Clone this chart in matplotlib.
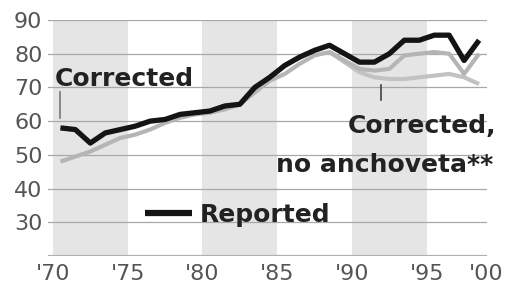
import numpy as np
import matplotlib
matplotlib.use('Agg')
import matplotlib.pyplot as plt

# annual values, 1970-1998
years = list(range(1970, 1999))
reported = [58, 57.5, 53.5, 56.5, 57.5, 58.5, 60, 60.5, 62, 62.5,
            63, 64.5, 65, 70, 73, 76.5, 79, 81, 82.5, 80,
            77.5, 77.5, 80, 84, 84, 85.5, 85.5, 78, 84]
corrected = [48, 49.5, 51, 53, 55, 56, 57.5, 59.5, 61, 62,
             62.5, 63.5, 65, 68.5, 72, 74, 77, 79.5, 80.5, 78,
             75.5, 75, 75.5, 79.5, 80, 80.5, 80, 74, 80]
no_anch_years = list(range(1988, 1999))
no_anchoveta = [80.5, 77.5, 74.5, 73, 72.5, 72.5, 73, 73.5, 74, 73, 71]

shaded = [(1970, 1975), (1980, 1985), (1990, 1995)]
xtick_pos = [1970, 1975, 1980, 1985, 1990, 1995, 1999]
xtick_labels = ["'70", "'75", "'80", "'85", "'90", "'95", "'00"]
yticks = [30, 40, 50, 60, 70, 80, 90]

W, H = 506, 287
fig = plt.figure(figsize=(W / 100, H / 100), dpi=100)
ax = fig.add_axes([48 / W, 31 / H, (487 - 48) / W, 236 / H])
ax.set_xlim(1969.67, 1999.03)
ax.set_ylim(20, 90)

for a, b in shaded:
    ax.axvspan(a, b, color='#e5e5e5', lw=0, zorder=0)
for v in yticks:
    ax.axhline(v, color='#a8a8a8', lw=0.9, zorder=1)
ax.axhline(20, color='#b0b0b0', lw=1.6, zorder=1)

# plot each year at mid-year
x = np.array(years) + 0.5
x2 = np.array(no_anch_years) + 0.5
ax.plot(x2, no_anchoveta, color='#c2c2c2', lw=3.0, solid_capstyle='butt', zorder=2)
ax.plot(x, corrected, color='#b5b5b5', lw=3.0, solid_capstyle='butt', zorder=3)
ax.plot(x, reported, color='#141414', lw=3.8, solid_capstyle='butt', zorder=4)

for s in ax.spines.values():
    s.set_visible(False)
ax.set_yticks(yticks)
ax.set_yticklabels([str(v) for v in yticks])
ax.set_xticks(xtick_pos)
ax.set_xticklabels(xtick_labels)
ax.tick_params(axis='y', length=0, pad=4, labelsize=16, labelcolor='#555555')
ax.tick_params(axis='x', length=0, pad=6, labelsize=16, labelcolor='#555555')

# labels
ax.text(1970.13, 70.4, 'Corrected', fontsize=18, fontweight='bold',
        color='#222222', ha='left', va='baseline')
ax.plot([1970.47, 1970.47], [61.0, 68.7], color='#777777', lw=1.2, zorder=5)

ax.text(1999.63, 56.5, 'Corrected,', fontsize=18, fontweight='bold',
        color='#222222', ha='right', va='baseline')
ax.text(1999.43, 44.9, 'no anchoveta**', fontsize=18, fontweight='bold',
        color='#222222', ha='right', va='baseline')
ax.plot([1991.94, 1991.94], [66.3, 70.7], color='#444444', lw=1.2, zorder=5)

ax.plot([1976.15, 1979.3], [32.8, 32.8], color='#141414', lw=4.5,
        solid_capstyle='butt', zorder=5)
ax.text(1979.83, 30.1, 'Reported', fontsize=18, fontweight='bold',
        color='#222222', ha='left', va='baseline')

fig.savefig('out.png', dpi=100, facecolor='white')
